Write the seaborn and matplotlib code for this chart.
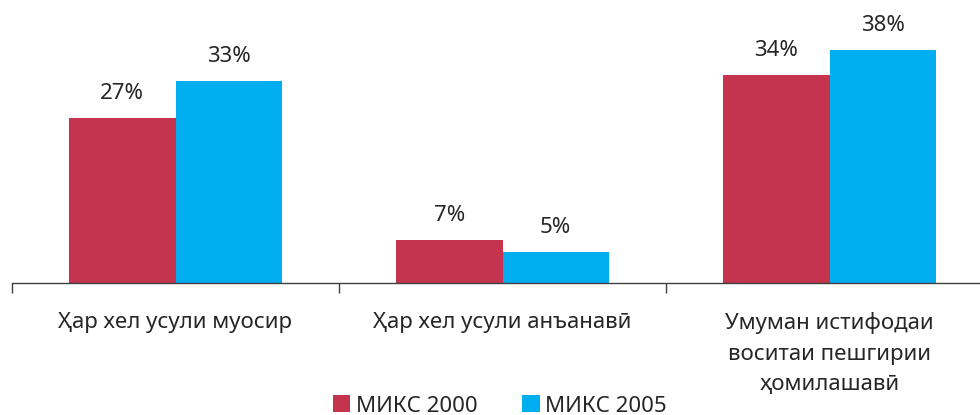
import pandas as pd
import matplotlib.pyplot as plt
import seaborn as sns
from matplotlib.patches import Patch

sns.set_style('white')
plt.rcParams['font.family'] = ['Noto Sans', 'DejaVu Sans']

# data
categories = ['Ҳар хел усули муосир', 'Ҳар хел усули анъанавӣ',
              'Умуман истифодаи\nвоситаи пешгирии\nҳомилашавӣ']
series = ['МИКС 2000', 'МИКС 2005']
mics_2000 = [27, 7, 34]
mics_2005 = [33, 5, 38]
colors = ['#C4344F', '#00AEEF']
text_col = '#262626'

df = pd.DataFrame({
    'category': categories * 2,
    'survey': [series[0]] * 3 + [series[1]] * 3,
    'value': mics_2000 + mics_2005,
})

fig = plt.figure(figsize=(9.8, 4.15), dpi=100)
ax = fig.add_axes([12 / 980, 1 - 283 / 415, 981 / 980, 283 / 415])

sns.barplot(data=df, x='category', y='value', hue='survey', palette=colors,
            width=0.65, gap=0, saturation=1, linewidth=0, ax=ax, legend=False)

for cont in ax.containers:
    ax.bar_label(cont, labels=[f'{v:.0f}%' for v in cont.datavalues],
                 padding=10, fontsize=16, color=text_col)

ax.set_ylim(0, 46.2)
ax.set_xlim(-0.5, 2.5)
ax.set_yticks([])
ax.set_xlabel('')
ax.set_ylabel('')
for s in ['top', 'right', 'left']:
    ax.spines[s].set_visible(False)
ax.spines['bottom'].set_color('#404040')
ax.spines['bottom'].set_linewidth(1)

ax.set_xticks(range(3))
ax.set_xticklabels(categories, fontsize=16, color=text_col, linespacing=1.6,
                   va='top')
ax.tick_params(axis='x', which='major', length=0, pad=21)
ax.set_xticks([-0.5, 0.5, 1.5, 2.5], minor=True)
ax.tick_params(axis='x', which='minor', bottom=True, length=7, width=1,
               color='#404040', direction='out')

handles = [Patch(facecolor=c, edgecolor='none') for c in colors]
fig.legend(handles, series, loc='center', bbox_to_anchor=(0.51, 9 / 415),
           ncol=2, frameon=False, fontsize=16, handlelength=0.8,
           handleheight=0.8, handletextpad=0.25, columnspacing=2.0,
           labelcolor=text_col)

fig.savefig('out.png', dpi=100)
